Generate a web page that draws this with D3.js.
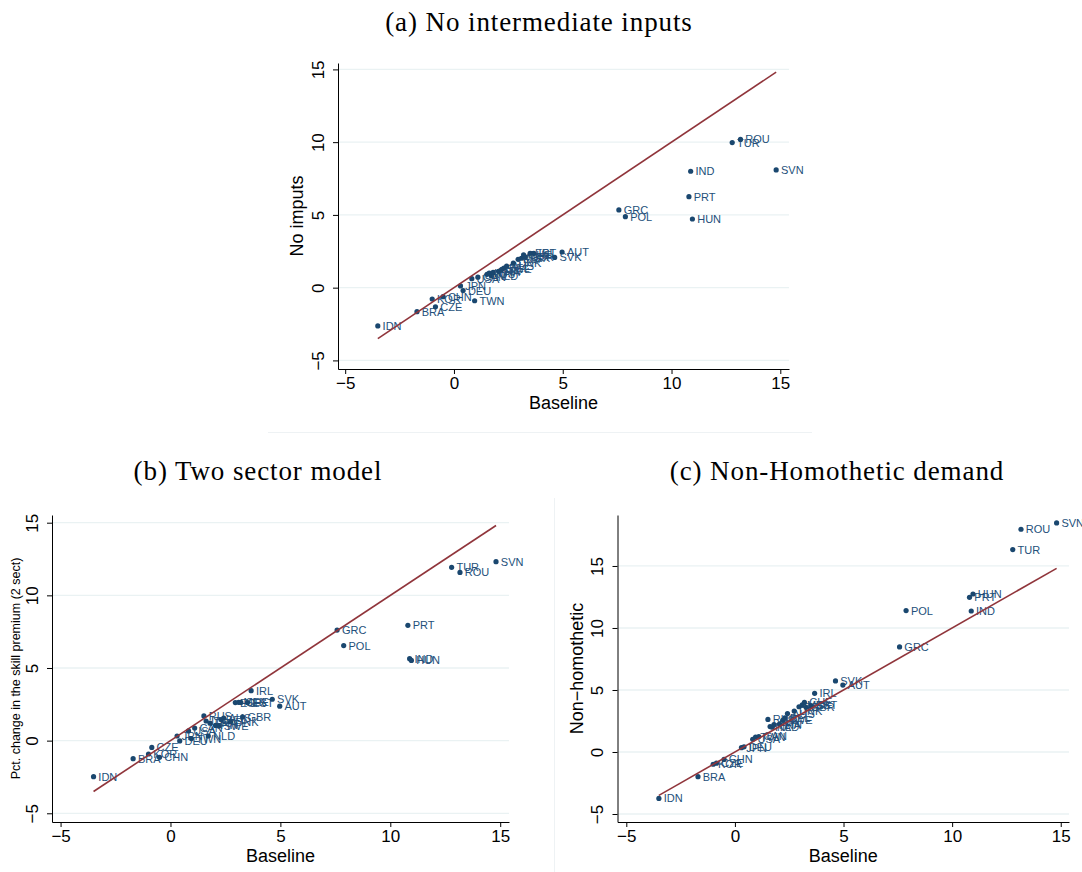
<!DOCTYPE html>
<html>
<head>
<meta charset="utf-8">
<script src="https://cdn.jsdelivr.net/npm/d3@7"></script>
<style>
  body { margin: 0; background: #fff; }
  svg { display: block; }
</style>
</head>
<body>
<div id="paper"></div>
<script>
// country codes, same order in every series
const countries = ["IDN","BRA","KOR","CZE","CHN","JPN","DEU","TWN","USA","CAN","NLD","RUS",
  "ITA","FRA","FIN","SWE","BEL","AUS","DNK","ESP","MEX","CHE","GBR","EST","IRL","SVK","AUT",
  "GRC","POL","PRT","IND","HUN","TUR","ROU","SVN"];

// baseline change in the skill premium (x of every panel)
const baseline = [-3.5,-1.7,-1.0,-0.85,-0.5,0.3,0.42,0.95,0.82,1.1,1.72,1.52,
  1.62,1.8,2.05,2.2,2.3,2.42,2.73,2.95,3.1,3.2,3.28,3.5,3.67,4.63,4.97,
  7.58,7.88,10.8,10.88,10.96,12.79,13.17,14.81];

// (a) no intermediate inputs
const noInputs = [-2.63,-1.65,-0.78,-1.32,-0.62,0.12,-0.2,-0.9,0.62,0.72,0.8,0.92,
  1.0,1.05,1.12,1.25,1.35,1.49,1.68,1.95,2.02,2.25,2.1,2.36,2.36,2.08,2.45,
  5.34,4.88,6.25,8.0,4.72,9.97,10.19,8.09];

// (b) two sector model
const twoSector = [-2.48,-1.24,-0.92,-0.47,-1.15,0.32,-0.02,0.14,0.67,0.87,0.32,1.7,
  1.35,1.2,1.05,1.0,1.45,1.55,1.3,2.62,2.64,2.63,1.63,2.62,3.44,2.85,2.37,
  7.61,6.54,7.94,5.64,5.52,11.93,11.58,12.32];

// (c) non-homothetic demand
const nonHomothetic = [-3.74,-1.99,-0.99,-0.9,-0.6,0.35,0.42,1.2,1.02,1.25,2.0,2.63,
  2.05,2.2,2.25,2.55,2.75,3.1,3.3,3.65,3.8,4.0,3.6,3.75,4.73,5.73,5.4,
  8.47,11.4,12.47,11.37,12.74,16.32,17.96,18.47];

const xTicks = [-5, 0, 5, 10, 15];
const yTicks = [-5, 0, 5, 10, 15];

const navy = "#1a476f", maroon = "#90353b", grid = "#eaf2f3";
const sans = "'Liberation Sans', Arial, Helvetica, sans-serif";
const serif = "'Palatino Linotype', Palatino, 'Liberation Serif', serif";
const fmt = d => d < 0 ? "\u2212" + Math.abs(d) : String(d);

const panels = [
  {title: "(a) No intermediate inputs", tx: 539, ty: 31, ylab: "No imputs", ylabSize: 18, ylabOff: 41,
   values: noInputs, left: 338, right: 789, top: 63, bottom: 369, xdom: [-5.33, 15.4], ydom: [-5.59, 15.44]},
  {title: "(b) Two sector model", tx: 258, ty: 480, ylab: "Pct. change in the skill premium (2 sect)", ylabSize: 12.5, ylabOff: 36,
   values: twoSector, left: 52, right: 509, top: 515, bottom: 822, xdom: [-5.39, 15.4], ydom: [-5.6, 15.53]},
  {title: "(c) Non-Homothetic demand", tx: 837, ty: 480, ylab: "Non\u2212homothetic", ylabSize: 18, ylabOff: 41,
   values: nonHomothetic, left: 617.5, right: 1069, top: 515, bottom: 822, xdom: [-5.405, 15.38], ydom: [-5.645, 19.11]}
];

const svg = d3.select("#paper").append("svg")
  .attr("width", 1082)
  .attr("height", 872);

// faint graph-region borders
svg.append("line").attr("x1", 268).attr("x2", 812).attr("y1", 432.5).attr("y2", 432.5)
  .attr("stroke", "#eef2f4");
svg.append("line").attr("x1", 554.5).attr("x2", 554.5).attr("y1", 498).attr("y2", 872)
  .attr("stroke", "#eef2f4");

const [xmin, xmax] = d3.extent(baseline);

panels.forEach(p => {
  const x = d3.scaleLinear().domain(p.xdom).range([p.left, p.right]);
  const y = d3.scaleLinear().domain(p.ydom).range([p.bottom, p.top]);
  const g = svg.append("g");

  g.append("text")
    .attr("x", p.tx).attr("y", p.ty)
    .attr("text-anchor", "middle")
    .attr("font-family", serif)
    .attr("font-size", 27)
    .attr("letter-spacing", "0.9px")
    .text(p.title);

  g.append("g").selectAll("line")
    .data(yTicks)
    .join("line")
    .attr("x1", p.left).attr("x2", p.right)
    .attr("y1", d => y(d)).attr("y2", d => y(d))
    .attr("stroke", grid)
    .attr("stroke-width", 1.3);

  const xAxis = g.append("g")
    .attr("transform", `translate(0,${p.bottom})`)
    .call(d3.axisBottom(x).tickValues(xTicks).tickSize(5).tickSizeOuter(0).tickFormat(fmt));
  xAxis.selectAll("text")
    .attr("font-family", sans).attr("font-size", 17).attr("fill", "#000")
    .attr("y", 8).attr("dy", "0.71em");

  const yAxis = g.append("g")
    .attr("transform", `translate(${p.left},0)`)
    .call(d3.axisLeft(y).tickValues(yTicks).tickSize(5).tickSizeOuter(0).tickFormat(fmt));
  yAxis.selectAll("text")
    .attr("font-family", sans).attr("font-size", 17).attr("fill", "#000")
    .attr("transform", "rotate(-90)")
    .attr("text-anchor", "middle")
    .attr("x", 0).attr("y", -20).attr("dy", "0.35em");

  [xAxis, yAxis].forEach(a => {
    a.select(".domain").attr("stroke", "#000");
    a.selectAll(".tick line").attr("stroke", "#000");
  });

  g.append("text")
    .attr("x", (p.left + p.right) / 2).attr("y", p.bottom + 40)
    .attr("text-anchor", "middle")
    .attr("font-family", sans).attr("font-size", 18)
    .text("Baseline");

  g.append("text")
    .attr("transform", `translate(${p.left - p.ylabOff},${(p.top + p.bottom) / 2}) rotate(-90)`)
    .attr("text-anchor", "middle")
    .attr("dy", "0.35em")
    .attr("font-family", sans).attr("font-size", p.ylabSize)
    .text(p.ylab);

  const pts = countries.map((c, i) => ({c, x: baseline[i], y: p.values[i]}));

  const node = g.append("g").selectAll("g")
    .data(pts)
    .join("g")
    .attr("transform", d => `translate(${x(d.x)},${y(d.y)})`);

  node.append("circle")
    .attr("r", 2.6)
    .attr("fill", navy);

  node.append("text")
    .attr("x", 4.8)
    .attr("dy", "0.36em")
    .attr("font-family", sans).attr("font-size", 11)
    .attr("fill", "#234f7a")
    .text(d => d.c);

  // 45 degree line over the baseline range
  g.append("line")
    .attr("x1", x(xmin)).attr("y1", y(xmin))
    .attr("x2", x(xmax)).attr("y2", y(xmax))
    .attr("stroke", maroon)
    .attr("stroke-width", 1.6);
});
</script>
</body>
</html>
